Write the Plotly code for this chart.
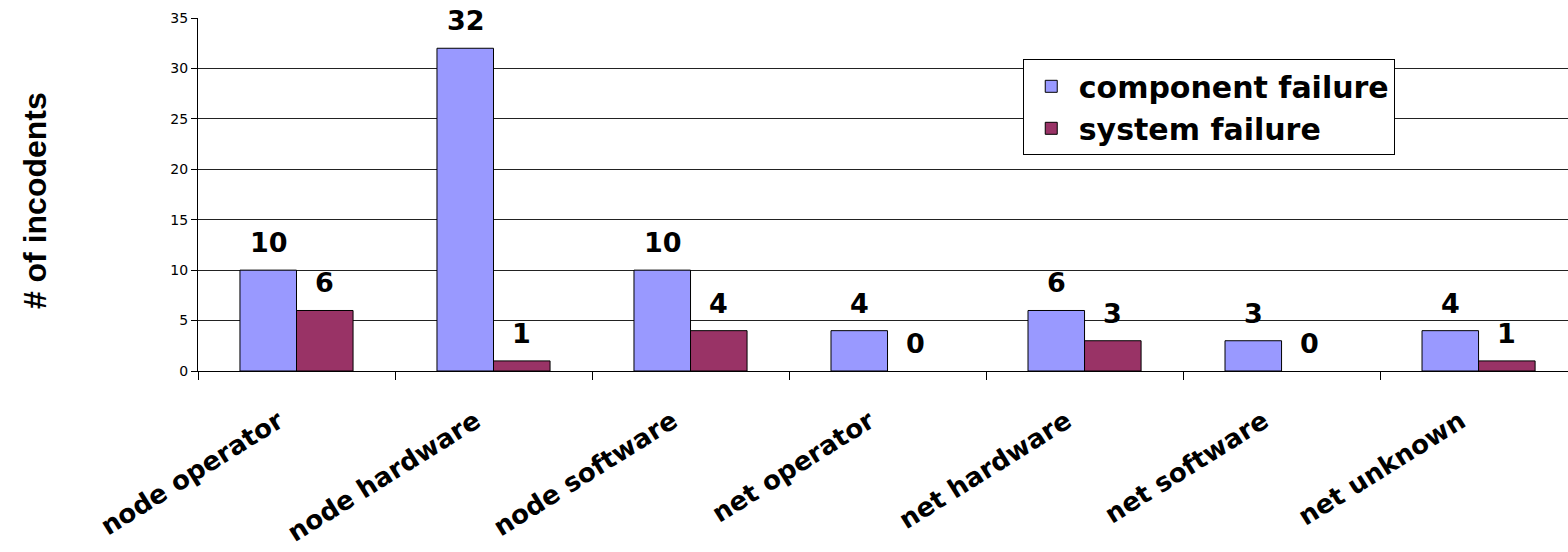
import plotly.graph_objects as go

categories = ["node operator", "node hardware", "node software", "net operator",
              "net hardware", "net software", "net unknown"]
component_failure = [10, 32, 10, 4, 6, 3, 4]
system_failure = [6, 1, 4, 0, 3, 0, 1]
y_ticks = [0, 5, 10, 15, 20, 25, 30, 35]

COMP_COLOR = "#9999FF"
SYS_COLOR = "#993366"
BOLD_FONT = "DejaVu Sans"


def outline_widths(values):
    # no outline for zero-height bars
    return [1 if v > 0 else 0 for v in values]


fig = go.Figure()
fig.add_bar(x=categories, y=component_failure, name="component failure",
            marker=dict(color=COMP_COLOR,
                        line=dict(color="#000000", width=outline_widths(component_failure))))
fig.add_bar(x=categories, y=system_failure, name="system failure",
            marker=dict(color=SYS_COLOR,
                        line=dict(color="#000000", width=outline_widths(system_failure))))

label_font = dict(family=BOLD_FONT, size=27, color="#000", weight="bold")
annotations = []
for cat, v in zip(categories, component_failure):
    annotations.append(dict(x=cat, y=v, text=str(v), showarrow=False, xref="x", yref="y",
                            xshift=-28, yshift=10, yanchor="bottom", font=label_font))
for cat, v in zip(categories, system_failure):
    annotations.append(dict(x=cat, y=v, text=str(v), showarrow=False, xref="x", yref="y",
                            xshift=28, yshift=10, yanchor="bottom", font=label_font))
annotations.append(dict(x=-0.119, y=0.484, xref="paper", yref="paper", text="# of incodents",
                        textangle=-90, showarrow=False, xanchor="center", yanchor="middle",
                        font=dict(family="Liberation Sans Narrow, Liberation Sans, Arial", size=32,
                                  color="#000", weight="bold")))

fig.update_layout(
    width=1568, height=552,
    margin=dict(l=198, r=0, t=18, b=181, autoexpand=False),
    paper_bgcolor="white", plot_bgcolor="white",
    barmode="group", bargap=0.426, bargroupgap=0,
    annotations=annotations,
    legend=dict(x=0.602, y=0.883, xanchor="left", yanchor="top",
                bordercolor="#000000", borderwidth=1, bgcolor="white",
                font=dict(family=BOLD_FONT, size=30, color="#000", weight="bold"),
                itemwidth=45, tracegroupgap=0),
    showlegend=True,
)
fig.update_xaxes(type="category", range=[-0.5, 6.454], showline=True, linecolor="#000", linewidth=1,
                 ticks="outside", tickson="boundaries", ticklen=8, tickcolor="#000",
                 tickangle=-32, ticklabelstandoff=24, ticklabelshift=-18, automargin=False,
                 tickfont=dict(family=BOLD_FONT, size=26, color="#000", weight="bold"),
                 showgrid=False)
fig.update_yaxes(range=[0, 35], tickvals=y_ticks, showline=True, linecolor="#000", linewidth=1,
                 ticks="outside", ticklen=6, tickcolor="#000", automargin=False,
                 showgrid=True, gridcolor="#222222", gridwidth=1, zeroline=False,
                 tickfont=dict(family="DejaVu Sans", size=14, color="#000"))

fig.write_html("out.html")
